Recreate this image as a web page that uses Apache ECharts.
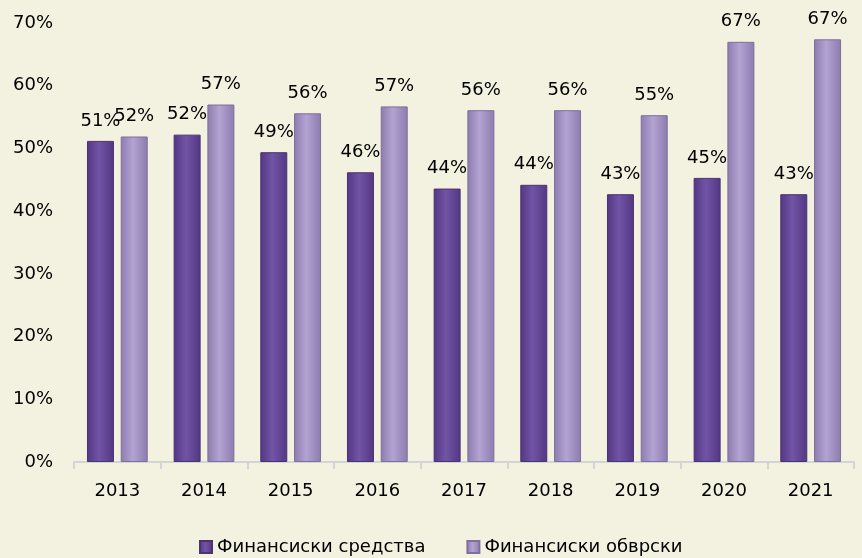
<!DOCTYPE html>
<html>
<head>
<meta charset="utf-8">
<script src="https://cdn.jsdelivr.net/npm/echarts@6/dist/echarts.min.js"></script>
<style>
  html, body { margin: 0; padding: 0; background: #f3f2e1; }
  #chart { width: 862px; height: 558px; }
</style>
</head>
<body>
<div id="chart"></div>
<script>
var years = ['2013', '2014', '2015', '2016', '2017', '2018', '2019', '2020', '2021'];
var sredstva = [51.2, 52.2, 49.4, 46.2, 43.6, 44.2, 42.7, 45.3, 42.7];
var obvrski = [51.9, 57.0, 55.6, 56.7, 56.1, 56.1, 55.3, 67.0, 67.4];
var yTicks = [0, 10, 20, 30, 40, 50, 60, 70];

var font = 'DejaVu Sans, Verdana, sans-serif';

function barColor(edge, mid) {
    return new echarts.graphic.LinearGradient(0, 0, 1, 0, [
        { offset: 0, color: edge },
        { offset: 0.45, color: mid },
        { offset: 1, color: edge }
    ]);
}

function pct(p) {
    return Math.round(p.value) + '%';
}

var myChart = echarts.init(document.getElementById('chart'));
myChart.setOption({
    backgroundColor: '#f3f2e1',
    animation: false,
    textStyle: { fontFamily: font },
    grid: { left: 74, right: 8, top: 23, bottom: 96, containLabel: false, outerBoundsMode: 'none' },
    legend: {
        top: 538,
        left: 199,
        padding: 0,
        itemWidth: 12,
        itemHeight: 12,
        itemGap: 41,
        icon: 'rect',
        textStyle: { fontSize: 18, color: '#000', fontFamily: font },
        data: ['Финансиски средства', 'Финансиски обврски']
    },
    xAxis: {
        type: 'category',
        data: years,
        axisLine: { lineStyle: { color: '#d4d4d4', width: 2 } },
        axisTick: { show: true, length: 7, lineStyle: { color: '#d4d4d4', width: 2 } },
        axisLabel: { fontSize: 18, color: '#000', margin: 20 }
    },
    yAxis: {
        type: 'value',
        min: yTicks[0],
        max: yTicks[yTicks.length - 1],
        interval: 10,
        axisLine: { show: false },
        axisTick: { show: false },
        splitLine: { show: false },
        axisLabel: {
            fontSize: 18, color: '#000', margin: 21,
            formatter: function (v) { return v + '%'; }
        }
    },
    series: [
        {
            name: 'Финансиски средства',
            type: 'bar',
            barWidth: 27,
            barGap: '25%',
            data: sredstva,
            itemStyle: {
                color: barColor('#523783', '#7254a6'),
                borderColor: '#4a3470',
                borderWidth: 1
            },
            label: { show: true, position: 'top', distance: 11, fontSize: 18, color: '#000', formatter: pct }
        },
        {
            name: 'Финансиски обврски',
            type: 'bar',
            barWidth: 27,
            data: obvrski,
            itemStyle: {
                color: barColor('#8c7cae', '#b2a3d3'),
                borderColor: '#7e6f9c',
                borderWidth: 1
            },
            label: { show: true, position: 'top', distance: 11, fontSize: 18, color: '#000', formatter: pct }
        }
    ]
});
</script>
</body>
</html>
